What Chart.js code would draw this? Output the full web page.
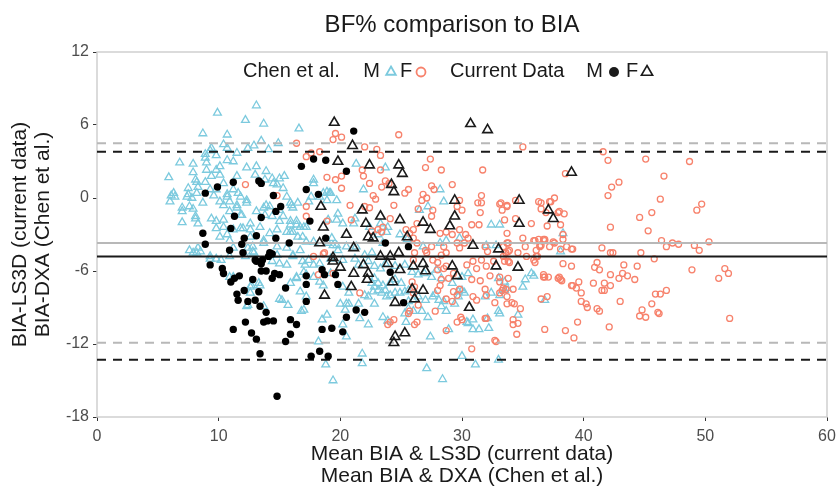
<!DOCTYPE html>
<html>
<head>
<meta charset="utf-8">
<script src="https://cdn.jsdelivr.net/npm/chart.js@4.4.0/dist/chart.umd.min.js"></script>
<style>
  html, body { margin: 0; padding: 0; background: #fff; }
  #wrap { width: 837px; height: 491px; }
</style>
</head>
<body>
<div id="wrap"><canvas id="bland"></canvas></div>
<script>
// Chen et al. males (blue open triangles), [mean, difference]
const chenMale = [
  [5.9,1.7],[6.8,2.9],[6.1,0.2],[6.0,-0.3],[6.4,0.1],[7.0,-0.8],[7.6,-0.7],[7.4,0.1],[7.5,0.8],[7.8,0.0],
  [8.1,1.5],[7.9,2.1],[7.0,-2.0],[8.1,-1.5],[8.7,5.3],[8.9,3.3],[9.0,2.9],[9.3,3.9],[9.8,3.5],[9.9,7.0],
  [10.7,5.2],[10.4,4.4],[10.7,3.1],[11.2,3.0],[9.8,2.3],[9.0,2.3],[8.2,1.3],[8.3,0.9],[8.9,1.3],[9.3,0.7],
  [12.2,6.4],[13.1,7.6],[13.7,6.1],[16.6,5.7],[13.5,4.7],[14.9,4.5],[12.4,4.1],[12.9,4.3],[11.5,3.7],[10.7,4.1],
  [12.3,2.5],[13.1,2.6],[13.9,2.2],[14.4,1.6],[13.8,1.5],[13.0,1.9],[9.8,0.7],[10.4,1.2],[11.2,0.7],[11.8,0.1],
  [10.7,0.1],[10.1,-0.3],[10.9,-0.3],[11.5,-0.8],[12.3,-0.4],[11.9,-1.4],[13.7,-0.8],[14.2,-0.7],[13.8,-1.4],[14.4,-1.5],
  [15.6,0.1],[15.9,-0.4],[16.1,-0.8],[16.5,-0.4],[15.3,-1.5],[15.9,-1.9],[16.4,-2.2],[17.0,-2.4],[16.5,-3.2],[15.9,-2.8],
  [9.8,-1.9],[10.4,-2.4],[11.2,-2.6],[12.0,-2.5],[12.6,-2.1],[13.4,-2.4],[10.1,-3.2],[10.9,-3.5],[12.6,-3.2],[13.7,-3.5],
  [14.2,-2.9],[14.8,-2.6],[11.2,-4.1],[12.8,-4.0],[13.7,-3.7],[14.8,-4.0],[17.2,-3.6],[19.4,-3.9],[19.8,-1.3],[19.7,-1.8],
  [19.1,0.4],[19.7,-0.2],[8.2,-4.5],[9.3,-4.8],[10.9,-4.8],
  [9.4,4.1],[14.1,4.0],[7.9,2.8],[8.9,3.6],[10.1,2.6],[15.4,1.8],[14.5,1.2],[14.8,1.1],[11.5,1.8],[10.1,1.9],
  [9.4,1.8],[6.3,0.4],[7.0,-1.1],[7.5,0.3],[8.2,0.4],[8.7,-0.4],[7.9,-0.9],[8.1,-1.7],[8.3,-2.1],[9.6,0.2],
  [10.7,0.3],[11.6,0.4],[10.4,-0.6],[11.5,-0.6],[12.3,-0.2],[11.8,-1.4],[10.9,-1.1],[13.1,-1.1],[13.9,-0.6],[15.0,-1.0],
  [16.0,-0.6],[16.4,-1.9],[15.9,-2.2],[16.7,-2.4],[15.0,-1.9],[15.6,-2.8],[16.1,-2.8],[9.4,-1.7],[10.4,-1.8],[9.8,-2.5],
  [11.8,-2.5],[12.6,-2.6],[10.7,-3.0],[7.6,-4.3],[8.3,-4.1],[12.4,-4.1],[12.9,-4.5],[15.6,-4.1],[16.7,-4.3],[17.8,-3.6],
  [17.8,1.2],[15.3,0.8],[15.0,1.6],
  [7.9,-4.5],[8.5,-4.4],[10.2,-5.1],[9.8,-5.0],[11.2,-6.5],[12.2,-4.8],[12.8,-4.4],[14.4,-5.2],[15.0,-5.4],[14.8,-4.7],
  [16.1,-4.8],[16.9,-5.2],[17.4,-5.1],[17.1,-5.5],[18.3,-5.4],[19.2,-5.0],[20.2,-5.1],[15.9,-7.0],[16.4,-6.5],[17.0,-6.1],
  [17.8,-6.5],[18.3,-6.9],[19.2,-6.2],[18.6,-7.2],[20.2,-7.3],[20.7,-7.8],[20.5,-8.7],[12.7,-7.2],[13.4,-7.2],[12.6,-7.8],
  [12.4,-8.8],[15.2,-8.4],[15.7,-8.8],[16.8,-9.3],[17.2,-8.1],[18.5,-10.0],[18.9,-9.6],[18.2,-11.8],[18.8,-13.7],[19.4,-15.0],
  [20.2,-10.4],[20.5,-11.4],
  [21.8,-12.8],[21.8,-13.6],[22.3,-10.4],[21.6,-9.9],[23.5,-9.8],[23.9,-10.1],[20.4,-9.2],[20.7,-8.7],[20.0,-8.7],[21.5,-8.7],
  [22.8,-8.7],[22.3,-8.1],[25.3,-9.5],[25.4,-10.2],[25.6,-9.1],[26.0,-9.3],[26.7,-9.3],[27.2,-9.8],[27.4,-11.4],[27.1,-14.0],
  [28.4,-14.9],[28.9,-10.8],[28.7,-9.3],[28.3,-8.9],[29.4,-8.7],[28.5,-8.5],[30.0,-13.0],[30.4,-10.2],[30.5,-10.3],[30.9,-10.0],
  [30.9,-10.8],[31.1,-13.7],[31.4,-10.8],[32.2,-10.7],[32.1,-9.9],[33.0,-9.3],[33.0,-13.3],[29.7,-7.7],[29.7,-8.1],[30.0,-7.6],
  [30.2,-7.8],[31.9,-8.1],[32.4,-7.8],[33.1,-8.0],[33.5,-7.6],[28.1,-8.4],[27.6,-8.1],[27.0,-8.4],[26.4,-8.1],[26.0,-8.4],
  [25.6,-8.5],[27.8,-7.9],
  [22.8,-6.6],[23.1,-7.0],[22.8,-7.3],[23.1,-7.6],[23.4,-7.8],[22.7,-7.7],[22.6,-7.0],[23.5,-7.2],[23.7,-7.6],[24.1,-7.0],
  [24.5,-6.7],[25.0,-7.0],[25.3,-7.7],[24.9,-7.8],[24.5,-7.8],[24.1,-8.0],[23.8,-8.1],[25.6,-7.6],[22.0,-8.0],
  [19.8,-4.3],[21.2,-5.0],[21.5,-5.5],[22.3,-5.2],[22.0,-4.7],[22.6,-4.5],[22.8,-5.6],[23.3,-5.8],[23.7,-5.4],[24.5,-5.6],
  [25.3,-5.5],[25.9,-6.1],[26.4,-6.3],[26.9,-6.2],[27.5,-6.5],[27.9,-5.9],[28.3,-6.6],[29.2,-7.0],[30.0,-6.5],[30.5,-6.2],
  [33.0,-6.6],[33.5,-6.9],
  [18.6,0.4],[19.2,0.4],[18.9,-0.2],[21.3,2.8],[23.7,2.5],[21.9,0.7],[28.2,0.7],[28.5,-0.3],[26.5,-1.0],[27.2,-0.7],
  [32.4,-2.2],[33.1,-2.2],[19.0,-1.8],[20.2,-2.1],[21.1,-2.1],[21.2,-1.7],[23.3,-2.1],[23.9,-2.4],[23.8,-2.8],[23.1,-3.0],
  [22.4,-2.4],[17.2,-2.4],[16.9,-3.2],[19.3,-3.3],[19.7,-3.9],[19.0,-3.7],[20.5,-4.0],[21.3,-4.0],[23.5,-3.7],[24.9,-3.0],
  [25.5,-3.4],[26.8,-4.0],[28.2,-3.7],[29.8,-3.3],[28.7,-3.5],[32.0,-3.9],[32.8,-3.9],[17.4,-0.3],[17.6,0.1],[18.3,0.1],
  [18.9,0.5],[17.8,1.5],
  [38.3,-2.9],[38.1,-4.4],[35.7,-6.2],[35.9,-6.4],[35.2,-6.7],[35.0,-7.3],[33.7,-7.4],[36.8,-8.4],[34.6,-9.6],[33.1,-9.5],
  [9.3,-5.0],[10.9,-6.5],[13.3,-7.0],[12.6,-7.3],[15.6,-5.5],[16.1,-4.7],[17.8,-5.5],[16.4,-6.6],[17.2,-6.3],[16.7,-7.7],
  [15.0,-8.3],[12.3,-8.9],[13.7,-8.9],[17.0,-9.2]
];

// Chen et al. females (salmon open circles)
const chenFemale = [
  [41.6,3.8],[42.0,3.1],[45.1,3.2],[48.7,3.0],[38.5,2.0],[46.6,1.8],[42.9,1.3],[42.3,0.9],[42.0,0.2],[46.3,-0.1],
  [49.7,-0.5],[49.3,-1.0],[37.6,0.0],[37.2,-0.3],[36.5,-0.4],[37.9,-1.2],[38.4,-1.3],[37.0,-2.3],[38.1,-2.2],[44.6,-1.6],
  [45.6,-1.2],[42.2,-2.4],[45.3,-2.7],[46.4,-3.5],[46.8,-4.0],[47.3,-3.7],[47.8,-3.8],[49.1,-3.9],[49.5,-4.3],[50.3,-3.6],
  [41.5,-4.1],[42.2,-4.5],[42.4,-4.5],[44.7,-4.5],[45.8,-5.0],[41.1,-5.3],[40.9,-5.7],[41.3,-5.9],[43.3,-5.5],[44.4,-5.6],
  [42.2,-6.3],[42.9,-6.6],[43.2,-6.2],[43.6,-6.4],[44.2,-6.7],[48.9,-5.9],[51.6,-5.8],[51.9,-6.2],[51.1,-6.6],[40.8,-7.0],
  [41.7,-7.0],[42.2,-7.2],[41.5,-7.6],[41.7,-7.6],[39.6,-6.9],[39.1,-7.2],[39.4,-7.4],[39.8,-7.8],[39.0,-7.2],[37.9,-6.6],
  [38.2,-6.8],[36.7,-6.5],[39.8,-8.5],[40.2,-8.7],[40.3,-9.0],[41.1,-9.1],[41.3,-9.3],[43.0,-8.5],[45.9,-7.9],[46.3,-7.9],
  [46.8,-7.6],[45.6,-8.7],[44.8,-9.2],[44.6,-9.7],[45.1,-9.8],[46.1,-9.4],[46.2,-9.5],[52.0,-9.9],[39.5,-10.2],[42.1,-10.6],
  [38.5,-10.9],[36.8,-10.8],[39.2,-11.5],[38.3,-5.4],[39.0,-5.6],[39.0,-4.2],[37.5,-3.6],[36.4,-3.9],[36.7,-3.4],
  [34.4,-0.2],[36.3,-0.3],[37.3,-0.3],[36.5,-0.9],[36.9,-1.2],[38.0,-1.1],[33.2,-0.4],[33.7,-0.6],[33.3,-1.0],[33.5,-1.8],
  [34.4,-1.7],[35.7,-2.1],[35.0,-3.3],[36.0,-3.5],[36.3,-3.4],[36.8,-3.4],[38.3,-3.0],[38.3,-3.4],[33.8,-3.7],[33.9,-4.3],
  [33.6,-4.5],[33.4,-4.0],[36.5,-3.9],[38.6,-4.0],[39.1,-4.2],[38.1,-4.2],[33.5,-5.2],[33.9,-5.3],[35.9,-5.1],[36.2,-4.8],
  [36.7,-6.3],[36.8,-6.5],[38.0,-6.5],[38.1,-6.7],[33.1,-6.5],[33.8,-6.6],[33.4,-7.4],[33.6,-7.5],[34.2,-7.5],[33.7,-8.1],
  [34.1,-8.6],[33.7,-8.7],[34.3,-8.7],[34.8,-9.1],[36.5,-8.3],[37.0,-8.1],[34.2,-10.0],[34.6,-10.3],[34.2,-10.4],[34.5,-11.2],
  [19.6,5.3],[20.1,5.0],[19.4,4.8],[17.6,3.7],[17.2,3.4],[18.3,3.8],[24.8,5.2],[22.0,4.2],[23.0,4.0],[23.3,3.5],
  [35.0,4.2],[21.8,2.3],[21.9,1.8],[23.3,2.3],[18.9,1.7],[19.6,1.5],[20.1,1.8],[20.1,0.8],[22.4,1.2],[23.7,1.4],
  [23.4,0.9],[24.0,1.2],[25.6,0.7],[25.3,0.4],[27.4,3.2],[27.0,2.5],[28.3,2.3],[31.7,2.3],[27.5,1.0],[27.7,0.7],
  [29.2,1.1],[31.6,0.2],[31.6,-0.4],[22.7,0.2],[22.9,-0.1],[22.4,-0.8],[22.0,-0.7],[20.8,-0.6],[24.4,-0.6],[26.8,0.3],
  [26.7,-0.2],[27.1,0.0],[27.6,-1.0],[27.5,-1.5],[26.4,-0.9],[29.8,-0.2],[30.0,-1.0],[29.6,-0.7],[33.1,-0.5],[33.7,-0.7],
  [31.4,-2.2],[30.8,-2.2],[29.8,-2.6],[29.2,-3.0],[28.2,-2.9],[28.7,-2.8],[26.3,-2.1],[26.0,-2.6],[25.7,-2.9],[25.4,-2.6],
  [24.1,-1.7],[23.5,-2.4],[23.1,-2.6],[22.6,-2.7],[23.4,-2.8],[20.9,-1.8],[17.2,-0.7],[17.2,-1.5],[33.7,-2.9],[35.9,-3.5],
  [36.8,-3.5],[36.4,-4.0],[37.2,-4.0],[37.6,-3.7],[30.3,-3.0],[30.5,-3.3],[30.2,-3.7],[29.6,-3.7],[29.8,-4.1],[31.9,-4.0],
  [32.1,-4.4],[33.7,-3.7],[33.8,-4.4],[35.2,-4.0],[36.1,-4.3],[27.0,-4.3],[27.5,-4.0],[26.3,-3.7],[26.0,-3.3],[28.5,-4.0],
  [28.3,-4.7],[28.7,-4.5],[27.1,-4.5],[18.7,-4.5],[17.8,-4.8],
  [18.6,-4.6],[26.0,-5.1],[26.1,-4.5],[27.6,-5.1],[28.0,-5.3],[28.5,-5.8],[28.0,-5.9],[28.7,-5.6],[29.3,-6.2],[28.9,-6.6],
  [28.3,-6.7],[28.2,-7.2],[28.0,-7.6],[29.3,-7.7],[29.8,-7.5],[30.4,-5.5],[30.9,-5.2],[31.2,-5.8],[31.6,-5.1],[30.8,-6.7],
  [31.5,-6.8],[31.9,-7.5],[32.0,-5.6],[32.6,-5.2],[30.9,-8.1],[31.2,-8.4],[32.0,-8.0],[33.1,-6.9],[33.3,-7.6],[33.1,-7.8],
  [32.7,-8.6],[32.3,-6.4],[33.4,-4.8],[33.8,-5.2],[34.6,-4.5],[35.3,-4.8],[36.1,-4.8],[36.0,-5.3],[37.1,-6.5],[31.9,-9.9],
  [32.0,-9.9],[32.7,-11.7],[32.8,-11.8],[30.8,-12.4],[29.2,-8.5],[28.7,-8.3],[29.6,-8.0],[27.8,-9.3],[28.7,-10.9],[29.6,-10.2],
  [29.9,-9.8],[30.0,-10.0],[26.4,-8.8],[26.3,-10.2],[26.1,-10.4],[24.1,-10.2],[23.9,-10.4],[24.4,-10.0],[25.9,-6.9],[26.1,-7.3],
  [26.0,-7.8],[19.4,-6.2],[18.2,-6.3],[21.6,-7.8],[25.7,-9.3],[25.6,-9.5],
  [31.5,-1.2],[31.3,-0.4],[16.4,4.5],[12.2,1.1],[18.9,-1.9],[14.8,0.2]
];

// current data males (black filled circles)
const curMale = [
  [8.9,0.4],[9.9,0.9],[11.2,1.3],[13.3,1.4],[13.5,1.2],[14.5,0.2],[15.1,-0.7],[14.7,-1.1],[11.3,-1.5],[13.5,-1.6],
  [11.0,-2.5],[8.7,-2.9],[8.9,-3.8],[12.1,-3.3],[13.1,-3.1],[14.7,-3.3],[15.8,-3.7],[11.9,-3.8],[10.9,-4.3],[12.0,-4.5],
  [16.8,2.6],[17.8,3.2],[18.8,3.1],[20.5,2.2],[17.2,0.7],[18.2,0.3],[17.5,-1.9],[18.8,-3.3],[14.4,-4.6],[14.1,-4.8],
  [13.6,-5.1],[13.0,-5.1],[21.1,5.5],[23.7,-3.7],[25.6,-4.0],[9.3,-5.5],[10.3,-5.8],[10.4,-6.2],[11.0,-6.9],[11.3,-6.6],
  [11.7,-6.4],[13.1,-5.2],[13.5,-5.4],[14.2,-4.5],[13.5,-6.0],[13.9,-6.0],[14.6,-6.2],[15.0,-6.3],[14.4,-6.6],[12.8,-6.7],
  [12.1,-7.6],[13.3,-7.7],[11.5,-7.9],[11.6,-8.4],[12.4,-8.5],[13.0,-8.4],[13.4,-8.9],[13.9,-9.4],[15.5,-7.4],[17.2,-6.4],
  [17.2,-8.5],[12.2,-10.2],[13.7,-10.2],[14.0,-10.1],[14.5,-10.1],[11.2,-10.8],[12.7,-11.1],[13.1,-11.6],[13.4,-12.8],[15.5,-11.8],
  [15.9,-10.0],[16.4,-10.4],[15.9,-11.2],[14.8,-16.3],[18.5,-10.8],[19.3,-10.7],[20.2,-11.0],[20.5,-9.8],[17.6,-13.0],[18.3,-12.6],
  [19.0,-13.0],[18.5,-5.9],[18.7,-6.3],[19.6,-6.3],[19.8,-7.1],[17.2,-7.1],[24.1,-6.1],[25.2,-8.6],[21.3,-9.2],[22.0,-9.4]
];

// current data females (black open triangles)
const curFemale = [
  [19.5,6.2],[30.7,6.1],[32.1,5.6],[21.0,4.3],[19.8,3.0],[22.4,2.7],[24.8,2.7],[25.1,2.0],[24.2,1.1],[24.4,0.5],
  [18.4,-0.7],[29.4,-0.2],[34.7,-0.2],[21.8,-1.0],[23.3,-1.5],[24.9,-1.8],[22.1,-2.1],[26.8,-2.0],[27.4,-2.6],[29.4,-1.5],
  [29.0,-2.3],[34.7,-2.1],[37.1,-1.0],[37.5,-1.7],[20.5,-3.0],[22.3,-3.2],[22.7,-3.3],[25.5,-3.2],[18.6,-2.4],[18.3,-3.7],
  [30.9,-3.9],[33.0,-4.2],[21.1,-4.1],[24.8,-4.5],[24.1,-4.8],[23.3,-4.8],[19.4,-4.9],[19.4,-5.2],[20.0,-5.7],[21.1,-6.2],
  [21.9,-5.5],[22.3,-6.2],[22.2,-6.7],[23.9,-5.4],[24.9,-5.9],[24.3,-6.9],[20.9,-7.3],[18.7,-8.0],[26.0,-5.6],[26.8,-5.4],
  [27.0,-6.0],[25.9,-7.5],[26.8,-7.6],[26.1,-8.3],[24.5,-8.6],[29.2,-5.6],[29.6,-6.4],[30.6,-9.0],[32.8,-5.6],[34.6,-5.7],
  [24.5,-11.4],[24.4,-11.9],[25.3,-11.1],[39.0,2.1]
];

// bias and limits of agreement
const chenLimits = [4.5, -3.7, -11.9];
const curLimits = [3.8, -4.8, -13.3];
const xRange = [0, 60];

const toXY = arr => arr.map(p => ({ x: p[0], y: p[1] }));
const hline = (v, color, dash) => ({
  type: 'line',
  data: xRange.map(x => ({ x: x, y: v })),
  borderColor: color,
  borderWidth: 2,
  borderDash: dash,
  pointRadius: 0,
  order: 3
});

const FONT = "'Liberation Sans', Arial, sans-serif";
const BLUE = '#7ccade';
const SALMON = '#f7826c';

const frameAndText = {
  id: 'frameAndText',
  beforeDatasetsDraw(chart) {
    const { ctx, chartArea: a } = chart;
    ctx.save();
    ctx.strokeStyle = '#cfcfcf';
    ctx.lineWidth = 1.5;
    ctx.strokeRect(a.left, a.top, a.right - a.left, a.bottom - a.top);
    ctx.restore();
  },
  afterDraw(chart) {
    const { ctx } = chart;
    ctx.save();
    ctx.fillStyle = '#1a1a1a';
    ctx.textBaseline = 'middle';
    ctx.textAlign = 'center';
    ctx.font = '24px ' + FONT;
    ctx.fillText('BF% comparison to BIA', 452, 25);

    // legend inside the panel
    ctx.font = '20px ' + FONT;
    const y = 71;
    ctx.textAlign = 'left';
    ctx.fillText('Chen et al.', 243, y);
    ctx.textAlign = 'right';
    ctx.fillText('M', 380, y);
    ctx.strokeStyle = BLUE; ctx.lineWidth = 1.8;
    tri(ctx, 391, y + 1, 5.5);
    ctx.textAlign = 'left';
    ctx.fillText('F', 400, y);
    ctx.strokeStyle = SALMON;
    ctx.fillStyle = '#fff';
    ctx.beginPath(); ctx.arc(421, y + 1, 4.5, 0, Math.PI * 2); ctx.fill(); ctx.stroke();
    ctx.fillStyle = '#1a1a1a';
    ctx.fillText('Current Data', 450, y);
    ctx.textAlign = 'right';
    ctx.fillText('M', 603, y);
    ctx.beginPath(); ctx.arc(614, y + 1, 5, 0, Math.PI * 2); ctx.fill();
    ctx.textAlign = 'left';
    ctx.fillText('F', 626, y);
    ctx.strokeStyle = '#1a1a1a'; ctx.lineWidth = 1.6;
    tri(ctx, 647, y + 1, 6.5);
    ctx.restore();
  }
};

function tri(ctx, x, y, r) {
  ctx.beginPath();
  for (let i = 0; i < 3; i++) {
    const ang = i * 2 * Math.PI / 3;
    const px = x + Math.sin(ang) * r, py = y - Math.cos(ang) * r;
    if (i === 0) ctx.moveTo(px, py); else ctx.lineTo(px, py);
  }
  ctx.closePath();
  ctx.stroke();
}

const tickStyle = { color: '#4d4d4d', font: { family: FONT, size: 16 } };

new Chart(document.getElementById('bland'), {
  type: 'scatter',
  data: {
    datasets: [
      {
        label: 'Current F',
        data: toXY(curFemale),
        pointStyle: 'triangle',
        pointRadius: 5.5,
        pointBorderWidth: 1.6,
        borderColor: '#1a1a1a',
        backgroundColor: 'rgba(0,0,0,0)',
        order: 1
      },
      {
        label: 'Current M',
        data: toXY(curMale),
        pointStyle: 'circle',
        pointRadius: 3.7,
        pointBorderWidth: 0,
        borderColor: '#000',
        backgroundColor: '#000',
        order: 2
      },
      hline(curLimits[0], '#1a1a1a', [9, 7]),
      hline(curLimits[1], '#1a1a1a', []),
      hline(curLimits[2], '#1a1a1a', [9, 7]),
      hline(chenLimits[0], '#b8b8b8', [9, 7]),
      hline(chenLimits[1], '#b8b8b8', []),
      hline(chenLimits[2], '#b8b8b8', [9, 7]),
      {
        label: 'Chen F',
        data: toXY(chenFemale),
        pointStyle: 'circle',
        pointRadius: 3,
        pointBorderWidth: 1.3,
        borderColor: SALMON,
        backgroundColor: 'rgba(0,0,0,0)',
        order: 4
      },
      {
        label: 'Chen M',
        data: toXY(chenMale),
        pointStyle: 'triangle',
        pointRadius: 4.5,
        pointBorderWidth: 1.3,
        borderColor: BLUE,
        backgroundColor: 'rgba(0,0,0,0)',
        order: 5
      }
    ]
  },
  options: {
    responsive: true,
    maintainAspectRatio: false,
    animation: false,
    events: [],
    layout: { autoPadding: false, padding: { top: 52, right: 10, left: 0, bottom: 0 } },
    plugins: {
      legend: { display: false },
      tooltip: { enabled: false },
      title: { display: false }
    },
    scales: {
      x: {
        type: 'linear',
        min: 0, max: 60,
        ticks: Object.assign({ stepSize: 10, padding: 6 }, tickStyle),
        grid: { drawOnChartArea: false, drawTicks: true, tickLength: 4, color: '#333' },
        border: { display: false },
        title: {
          display: true,
          text: ['Mean BIA & LS3D (current data)', 'Mean BIA & DXA (Chen et al.)'],
          color: '#1a1a1a',
          font: { family: FONT, size: 21, lineHeight: 1.08 },
          padding: { top: 0, bottom: 3 }
        },
        afterFit: s => { s.height = 74; s.paddingLeft = 0; s.paddingRight = 0; }
      },
      y: {
        type: 'linear',
        min: -18, max: 12,
        ticks: Object.assign({ stepSize: 6, padding: 4 }, tickStyle),
        grid: { drawOnChartArea: false, drawTicks: true, tickLength: 4, color: '#333' },
        border: { display: false },
        title: {
          display: true,
          text: ['BIA-LS3D (current data)', 'BIA-DXA (Chen et al.)'],
          color: '#1a1a1a',
          font: { family: FONT, size: 21, lineHeight: 1.08 },
          padding: { top: 9, bottom: 0 }
        },
        afterFit: s => { s.width = 97; }
      }
    }
  },
  plugins: [frameAndText]
});
</script>
</body>
</html>
